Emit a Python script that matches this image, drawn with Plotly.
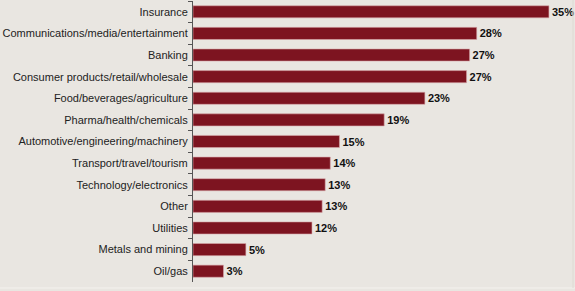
import plotly.graph_objects as go

categories = [
    "Insurance",
    "Communications/media/entertainment",
    "Banking",
    "Consumer products/retail/wholesale",
    "Food/beverages/agriculture",
    "Pharma/health/chemicals",
    "Automotive/engineering/machinery",
    "Transport/travel/tourism",
    "Technology/electronics",
    "Other",
    "Utilities",
    "Metals and mining",
    "Oil/gas",
]
values = [35.0, 27.9, 27.2, 26.9, 22.8, 18.8, 14.4, 13.5, 13.0, 12.7, 11.7, 5.2, 3.0]
value_labels = ["35%", "28%", "27%", "27%", "23%", "19%", "15%", "14%", "13%", "13%", "12%", "5%", "3%"]

BG = "#e9e6e1"
W, H = 575, 291
L, R, T, B = 193, 0, 1, 9

fig = go.Figure(
    go.Bar(
        x=values,
        y=categories,
        orientation="h",
        text=value_labels,
        textposition="outside",
        cliponaxis=False,
        textfont=dict(family="Liberation Sans, Arial, sans-serif", size=11, color="#111111", weight="bold"),
        marker=dict(color="#7d1420", line=dict(color="#d9a9ab", width=0.6)),
        width=0.56,
        hoverinfo="skip",
    )
)

fig.update_layout(
    width=W,
    height=H,
    margin=dict(l=L, r=R, t=T, b=B, pad=0),
    paper_bgcolor=BG,
    plot_bgcolor=BG,
    showlegend=False,
    font=dict(family="Liberation Sans, Arial, sans-serif", size=11, color="#222222"),
    xaxis=dict(
        range=[0, (W - L - R) / 10.17],
        showgrid=False,
        zeroline=False,
        showline=False,
        showticklabels=False,
        ticks="",
        fixedrange=True,
    ),
    yaxis=dict(
        autorange="reversed",
        showgrid=False,
        zeroline=False,
        showline=True,
        linecolor="#555555",
        linewidth=1,
        ticks="outside",
        tickson="boundaries",
        ticklen=4,
        tickcolor="#555555",
        tickwidth=1,
        ticklabelstandoff=2,
        tickfont=dict(size=11, color="#222222"),
        fixedrange=True,
    ),
    shapes=[
        dict(type="line", xref="paper", yref="paper", x0=-L / (W - L - R), x1=1, y0=-(B - 3) / (H - T - B), y1=-(B - 3) / (H - T - B),
             line=dict(color="#f4f2ee", width=1)),
        dict(type="line", xref="paper", yref="paper", x0=(W - L - 2) / (W - L - R), x1=(W - L - 2) / (W - L - R), y0=-(B - 3) / (H - T - B), y1=1 + T / (H - T - B),
             line=dict(color="#dedad3", width=1)),
    ],
)

fig.write_html("out.html")
